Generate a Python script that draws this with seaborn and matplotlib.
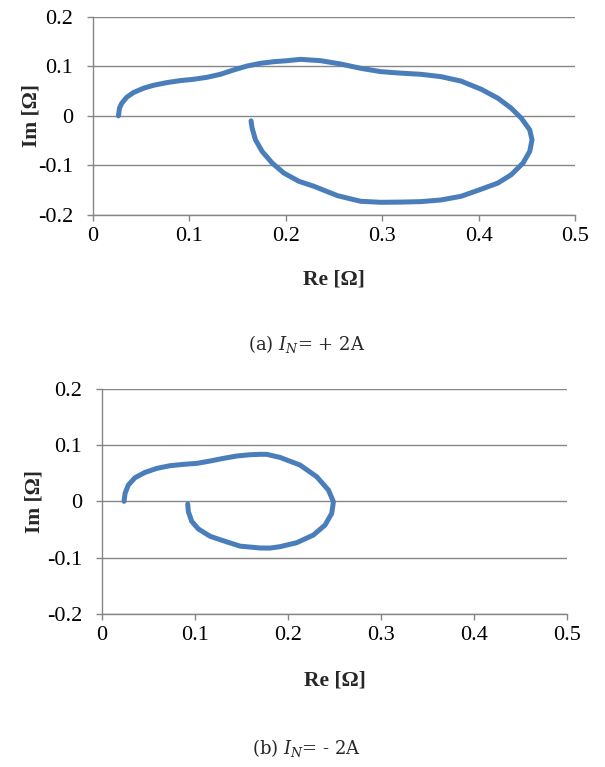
import pandas as pd
import numpy as np
import matplotlib
matplotlib.use('Agg')
import matplotlib.pyplot as plt
import seaborn as sns

# Nyquist loci: (a) IN = +2A, (b) IN = -2A
re_pos = [0.0267, 0.0277, 0.0301, 0.0353, 0.0422, 0.0526, 0.063, 0.0768, 0.0907, 0.1045,
          0.1184, 0.1322, 0.146, 0.160, 0.1738, 0.1876, 0.2015, 0.2153, 0.2361, 0.2569,
          0.2776, 0.2984, 0.3191, 0.340, 0.3607, 0.3815, 0.4023, 0.4197, 0.4335, 0.4439,
          0.4526, 0.455, 0.4526, 0.4457, 0.4335, 0.4197, 0.4023, 0.3815, 0.3607, 0.340,
          0.3191, 0.2984, 0.2776, 0.2535, 0.229, 0.2136, 0.198, 0.1859, 0.1755, 0.1686,
          0.1651, 0.164]
im_pos = [0.000, 0.0154, 0.0255, 0.0376, 0.047, 0.0557, 0.0617, 0.0671, 0.0711, 0.0738,
          0.0778, 0.0838, 0.0926, 0.1006, 0.106, 0.1093, 0.1113, 0.114, 0.1113, 0.1046,
          0.0959, 0.0892, 0.0862, 0.0838, 0.0791, 0.0701, 0.0537, 0.0355, 0.0154, -0.0047,
          -0.0282, -0.0483, -0.0718, -0.0952, -0.1187, -0.1355, -0.148, -0.1623, -0.1697, -0.173,
          -0.174, -0.1744, -0.1724, -0.161, -0.142, -0.1321, -0.1154, -0.0952, -0.0718, -0.0483,
          -0.0248, -0.0101]

re_neg = [0.024, 0.0251, 0.0286, 0.0358, 0.0465, 0.0591, 0.0734, 0.0877, 0.102, 0.1164,
          0.1307, 0.145, 0.1593, 0.1699, 0.1772, 0.1915, 0.213, 0.2309, 0.2435, 0.2489,
          0.2471, 0.2399, 0.2274, 0.2095, 0.1915, 0.1808, 0.1699, 0.1486, 0.1307, 0.1164,
          0.1038, 0.0967, 0.0931, 0.0924]
im_neg = [0.000, 0.0142, 0.0289, 0.042, 0.0514, 0.0585, 0.0633, 0.0657, 0.0674, 0.0716,
          0.0763, 0.0805, 0.0828, 0.0835, 0.0835, 0.078, 0.0645, 0.0438, 0.0201, -0.0007,
          -0.0213, -0.0421, -0.0598, -0.0734, -0.0805, -0.083, -0.0828, -0.0795, -0.070, -0.062,
          -0.049, -0.0355, -0.0184, -0.0048]

x_ticks = [0, 0.1, 0.2, 0.3, 0.4, 0.5]
x_labels = ['0', '0.1', '0.2', '0.3', '0.4', '0.5']
y_ticks = [-0.2, -0.1, 0, 0.1, 0.2]
y_labels = ['-0.2', '-0.1', '0', '0.1', '0.2']
captions = ['(a) $I_N$= + 2A', '(b) $I_N$= - 2A']

sns.set_style('white')
plt.rcParams['font.family'] = ['Liberation Serif', 'DejaVu Serif']
plt.rcParams['mathtext.fontset'] = 'custom'
plt.rcParams['mathtext.rm'] = 'DejaVu Serif'
plt.rcParams['mathtext.it'] = 'DejaVu Serif:italic'

grey = '#868686'
blue = '#4a7ebb'

fig = plt.figure(figsize=(6.05, 7.67), dpi=100)
ax1 = fig.add_axes([0.1532, 0.7197, 0.798, 0.2585])
ax2 = fig.add_axes([0.1681, 0.1995, 0.7694, 0.2937])

panels = [(ax1, re_pos, im_pos, -0.107, -0.277),
          (ax2, re_neg, im_neg, -0.122, -0.25)]
for ax, re, im, ylx, xly in panels:
    df = pd.DataFrame({'re': re, 'im': im})
    sns.lineplot(data=df, x='re', y='im', sort=False, estimator=None, ax=ax,
                 color=blue, linewidth=3.6, solid_capstyle='round', solid_joinstyle='round')
    ax.set_xlim(0, 0.5)
    ax.set_ylim(-0.2, 0.2)
    ax.set_xticks(x_ticks)
    ax.set_yticks(y_ticks)
    ax.set_xticklabels(x_labels)
    ax.set_yticklabels(y_labels)
    ax.yaxis.grid(True, color=grey, linewidth=1.0)
    ax.set_axisbelow(True)
    for s in ['top', 'right']:
        ax.spines[s].set_visible(False)
    for s in ['left', 'bottom']:
        ax.spines[s].set_color(grey)
        ax.spines[s].set_linewidth(1.0)
    ax.tick_params(axis='both', direction='out', length=4, width=1.0, color=grey,
                   labelsize=16, labelcolor='black')
    ax.tick_params(axis='x', bottom=True, pad=5)
    ax.tick_params(axis='y', left=True, pad=10)
    ax.set_xlabel('Re [Ω]', fontsize=15.5, fontweight='bold')
    ax.set_ylabel('Im [Ω]', fontsize=15.5, fontweight='bold')
    ax.xaxis.set_label_coords(0.5, xly)
    ax.yaxis.set_label_coords(ylx, 0.5)

# captions below each panel
fig.text(307 / 605, 1 - 344 / 767, captions[0], ha='center', va='center',
         fontsize=13, family=['DejaVu Serif'])
fig.text(307 / 605, 1 - 748 / 767, captions[1], ha='center', va='center',
         fontsize=13, family=['DejaVu Serif'])

plt.savefig('out.png', dpi=100)
